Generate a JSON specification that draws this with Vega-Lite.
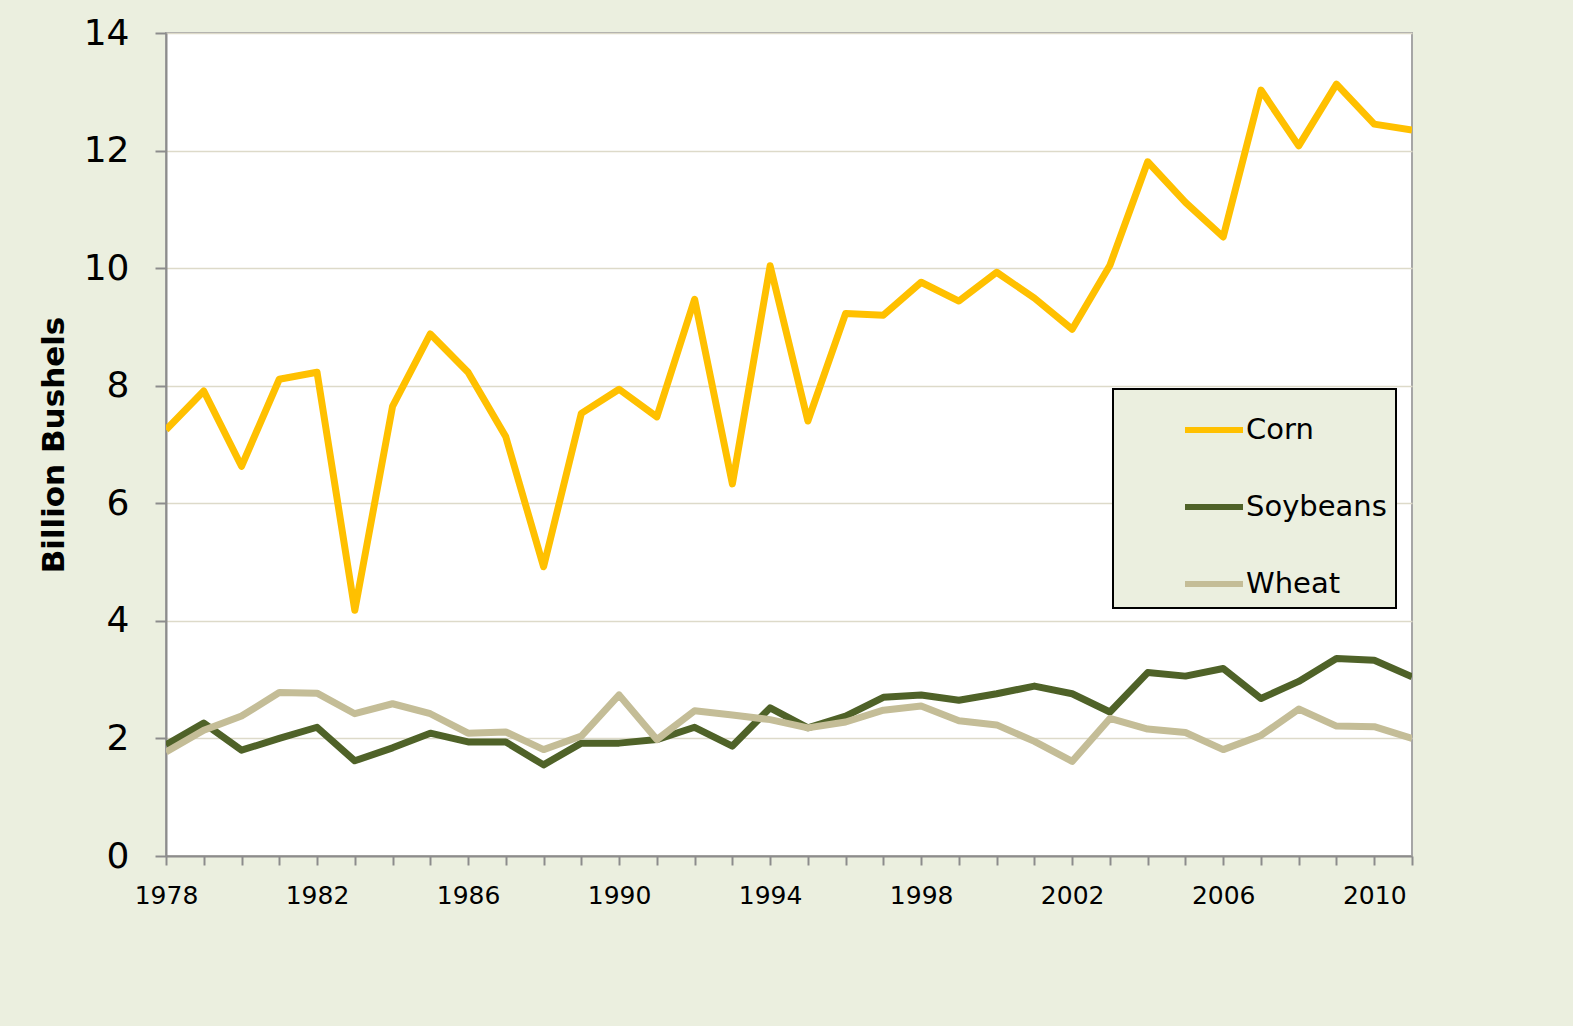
{
  "$schema": "https://vega.github.io/schema/vega-lite/v6.json",
  "autosize": "none",
  "width": 1246,
  "height": 823,
  "padding": {"left": 166, "top": 33, "right": 161, "bottom": 170},
  "background": "#EBEFDF",
  "config": {
    "font": "DejaVu Sans",
    "view": {"fill": "white", "stroke": "#A6A6A6", "strokeWidth": 2}
  },
  "datasets": {
    "crops": [
      {"year": 1978, "crop": "Corn", "value": 7.25}, {"year": 1979, "crop": "Corn", "value": 7.91},
      {"year": 1980, "crop": "Corn", "value": 6.63}, {"year": 1981, "crop": "Corn", "value": 8.11},
      {"year": 1982, "crop": "Corn", "value": 8.23}, {"year": 1983, "crop": "Corn", "value": 4.18},
      {"year": 1984, "crop": "Corn", "value": 7.65}, {"year": 1985, "crop": "Corn", "value": 8.88},
      {"year": 1986, "crop": "Corn", "value": 8.23}, {"year": 1987, "crop": "Corn", "value": 7.13},
      {"year": 1988, "crop": "Corn", "value": 4.92}, {"year": 1989, "crop": "Corn", "value": 7.53},
      {"year": 1990, "crop": "Corn", "value": 7.94}, {"year": 1991, "crop": "Corn", "value": 7.47},
      {"year": 1992, "crop": "Corn", "value": 9.47}, {"year": 1993, "crop": "Corn", "value": 6.33},
      {"year": 1994, "crop": "Corn", "value": 10.04}, {"year": 1995, "crop": "Corn", "value": 7.40},
      {"year": 1996, "crop": "Corn", "value": 9.23}, {"year": 1997, "crop": "Corn", "value": 9.20},
      {"year": 1998, "crop": "Corn", "value": 9.76}, {"year": 1999, "crop": "Corn", "value": 9.44},
      {"year": 2000, "crop": "Corn", "value": 9.93}, {"year": 2001, "crop": "Corn", "value": 9.49},
      {"year": 2002, "crop": "Corn", "value": 8.96}, {"year": 2003, "crop": "Corn", "value": 10.05},
      {"year": 2004, "crop": "Corn", "value": 11.81}, {"year": 2005, "crop": "Corn", "value": 11.12},
      {"year": 2006, "crop": "Corn", "value": 10.53}, {"year": 2007, "crop": "Corn", "value": 13.03},
      {"year": 2008, "crop": "Corn", "value": 12.08}, {"year": 2009, "crop": "Corn", "value": 13.13},
      {"year": 2010, "crop": "Corn", "value": 12.45}, {"year": 2011, "crop": "Corn", "value": 12.35},

      {"year": 1978, "crop": "Soybeans", "value": 1.89}, {"year": 1979, "crop": "Soybeans", "value": 2.26},
      {"year": 1980, "crop": "Soybeans", "value": 1.80}, {"year": 1981, "crop": "Soybeans", "value": 2.00},
      {"year": 1982, "crop": "Soybeans", "value": 2.19}, {"year": 1983, "crop": "Soybeans", "value": 1.62},
      {"year": 1984, "crop": "Soybeans", "value": 1.84}, {"year": 1985, "crop": "Soybeans", "value": 2.09},
      {"year": 1986, "crop": "Soybeans", "value": 1.94}, {"year": 1987, "crop": "Soybeans", "value": 1.94},
      {"year": 1988, "crop": "Soybeans", "value": 1.55}, {"year": 1989, "crop": "Soybeans", "value": 1.92},
      {"year": 1990, "crop": "Soybeans", "value": 1.92}, {"year": 1991, "crop": "Soybeans", "value": 1.98},
      {"year": 1992, "crop": "Soybeans", "value": 2.19}, {"year": 1993, "crop": "Soybeans", "value": 1.87},
      {"year": 1994, "crop": "Soybeans", "value": 2.52}, {"year": 1995, "crop": "Soybeans", "value": 2.18},
      {"year": 1996, "crop": "Soybeans", "value": 2.38}, {"year": 1997, "crop": "Soybeans", "value": 2.70},
      {"year": 1998, "crop": "Soybeans", "value": 2.74}, {"year": 1999, "crop": "Soybeans", "value": 2.65},
      {"year": 2000, "crop": "Soybeans", "value": 2.76}, {"year": 2001, "crop": "Soybeans", "value": 2.89},
      {"year": 2002, "crop": "Soybeans", "value": 2.76}, {"year": 2003, "crop": "Soybeans", "value": 2.45},
      {"year": 2004, "crop": "Soybeans", "value": 3.12}, {"year": 2005, "crop": "Soybeans", "value": 3.06},
      {"year": 2006, "crop": "Soybeans", "value": 3.19}, {"year": 2007, "crop": "Soybeans", "value": 2.68},
      {"year": 2008, "crop": "Soybeans", "value": 2.97}, {"year": 2009, "crop": "Soybeans", "value": 3.36},
      {"year": 2010, "crop": "Soybeans", "value": 3.33}, {"year": 2011, "crop": "Soybeans", "value": 3.05},

      {"year": 1978, "crop": "Wheat", "value": 1.77}, {"year": 1979, "crop": "Wheat", "value": 2.14},
      {"year": 1980, "crop": "Wheat", "value": 2.38}, {"year": 1981, "crop": "Wheat", "value": 2.78},
      {"year": 1982, "crop": "Wheat", "value": 2.77}, {"year": 1983, "crop": "Wheat", "value": 2.42},
      {"year": 1984, "crop": "Wheat", "value": 2.59}, {"year": 1985, "crop": "Wheat", "value": 2.42},
      {"year": 1986, "crop": "Wheat", "value": 2.09}, {"year": 1987, "crop": "Wheat", "value": 2.11},
      {"year": 1988, "crop": "Wheat", "value": 1.81}, {"year": 1989, "crop": "Wheat", "value": 2.04},
      {"year": 1990, "crop": "Wheat", "value": 2.74}, {"year": 1991, "crop": "Wheat", "value": 1.98},
      {"year": 1992, "crop": "Wheat", "value": 2.47}, {"year": 1993, "crop": "Wheat", "value": 2.40},
      {"year": 1994, "crop": "Wheat", "value": 2.32}, {"year": 1995, "crop": "Wheat", "value": 2.18},
      {"year": 1996, "crop": "Wheat", "value": 2.28}, {"year": 1997, "crop": "Wheat", "value": 2.48},
      {"year": 1998, "crop": "Wheat", "value": 2.55}, {"year": 1999, "crop": "Wheat", "value": 2.30},
      {"year": 2000, "crop": "Wheat", "value": 2.23}, {"year": 2001, "crop": "Wheat", "value": 1.95},
      {"year": 2002, "crop": "Wheat", "value": 1.61}, {"year": 2003, "crop": "Wheat", "value": 2.34},
      {"year": 2004, "crop": "Wheat", "value": 2.16}, {"year": 2005, "crop": "Wheat", "value": 2.10},
      {"year": 2006, "crop": "Wheat", "value": 1.81}, {"year": 2007, "crop": "Wheat", "value": 2.05},
      {"year": 2008, "crop": "Wheat", "value": 2.50}, {"year": 2009, "crop": "Wheat", "value": 2.21},
      {"year": 2010, "crop": "Wheat", "value": 2.20}, {"year": 2011, "crop": "Wheat", "value": 2.00}
    ]
  },
  "data": {"name": "crops"},
  "mark": {"type": "line", "strokeWidth": 7, "strokeJoin": "round", "strokeCap": "butt", "clip": true},
  "encoding": {
    "x": {
      "field": "year",
      "type": "quantitative",
      "scale": {"domain": [1978, 2011], "nice": false, "zero": false},
      "axis": {
        "title": null,
        "values": [1978,1979,1980,1981,1982,1983,1984,1985,1986,1987,1988,1989,1990,1991,1992,1993,1994,1995,1996,1997,1998,1999,2000,2001,2002,2003,2004,2005,2006,2007,2008,2009,2010,2011],
        "labelExpr": "(datum.value - 1978) % 4 == 0 ? datum.value : ''",
        "format": "d",
        "grid": false,
        "domainColor": "#8C8C8C",
        "domainWidth": 2,
        "tickColor": "#8C8C8C",
        "tickWidth": 2,
        "tickSize": 9,
        "labelFont": "DejaVu Sans",
        "labelFontSize": 25,
        "labelColor": "#000000",
        "labelPadding": 18,
        "labelOverlap": false,
        "labelFlush": false
      }
    },
    "y": {
      "field": "value",
      "type": "quantitative",
      "scale": {"domain": [0, 14], "nice": false},
      "axis": {
        "title": "Billion Bushels",
        "titleFont": "DejaVu Sans",
        "titleFontSize": 31,
        "titleFontWeight": "bold",
        "titleColor": "#000000",
        "titlePadding": 13,
        "values": [0, 2, 4, 6, 8, 10, 12, 14],
        "grid": true,
        "gridColor": "#DDDAC9",
        "gridWidth": 1.5,
        "domainColor": "#8C8C8C",
        "domainWidth": 2,
        "tickColor": "#8C8C8C",
        "tickWidth": 2,
        "tickSize": 11,
        "labelFont": "DejaVu Sans",
        "labelFontSize": 36,
        "labelColor": "#000000",
        "labelPadding": 26
      }
    },
    "color": {
      "field": "crop",
      "type": "nominal",
      "scale": {"domain": ["Corn", "Soybeans", "Wheat"], "range": ["#FFC000", "#4F6228", "#C4BD97"]},
      "legend": {
        "title": null,
        "orient": "none",
        "legendX": 947,
        "legendY": 356,
        "fillColor": "#EBEFDF",
        "strokeColor": "#000000",
        "padding": 9,
        "symbolOffset": 60,
        "symbolType": "stroke",
        "symbolSize": 3364,
        "symbolStrokeWidth": 6,
        "labelOffset": 0,
        "labelFont": "DejaVu Sans",
        "labelFontSize": 29,
        "labelColor": "#000000",
        "labelLimit": 400,
        "rowPadding": 30,
        "encode": {
          "legend": {"update": {"strokeWidth": {"value": 2}}}
        }
      }
    }
  }
}
